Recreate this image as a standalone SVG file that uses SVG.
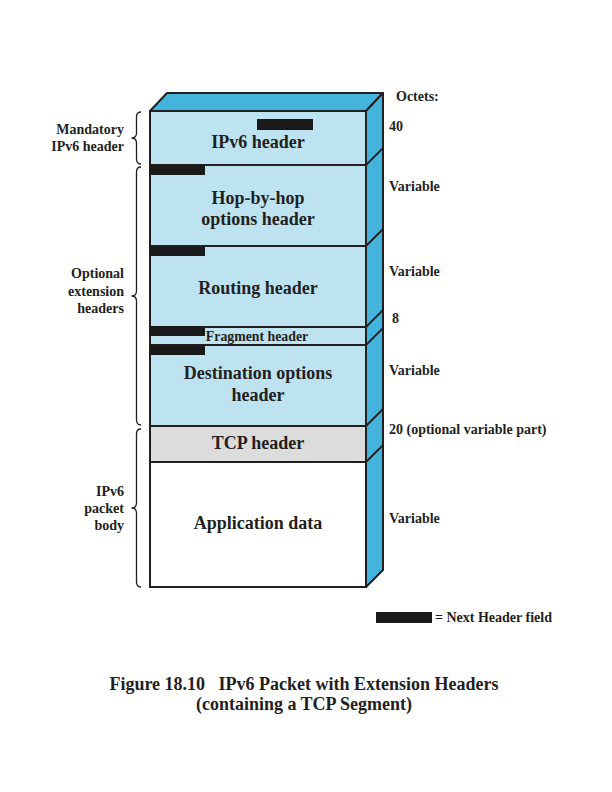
<svg xmlns="http://www.w3.org/2000/svg" width="612" height="792" viewBox="0 0 612 792">
<style>
.f{fill:#BDE3F0;stroke:#231F20;stroke-width:2}
.s{fill:#45B4DD;stroke:#231F20;stroke-width:2;stroke-linejoin:round}
.t{font-family:"Liberation Serif",serif;font-weight:bold;fill:#231F20}
.big{font-size:18px;text-anchor:middle}
.lab{font-size:14px}
.left{font-size:14px;text-anchor:end}
.nh{fill:#1a1a1a}
.br{fill:none;stroke:#231F20;stroke-width:1.3}
.dv{fill:none;stroke:#231F20;stroke-width:1.8}
</style>
<rect width="612" height="792" fill="#ffffff"/>
<g id="box3d">
<polygon class="s" points="150,111 167,93 383,93 366,111"/>
<polygon class="s" points="366,111 383,93 383,570 366,587"/>
</g>
<g id="ipv6-header">
<rect class="f" x="150" y="111" width="216" height="54"/>
<rect class="nh" x="257" y="119" width="56" height="11"/>
<text class="t big" x="258" y="148">IPv6 header</text>
</g>
<g id="hop-by-hop">
<rect class="f" x="150" y="165" width="216" height="81"/>
<rect class="nh" x="150" y="165" width="55" height="10"/>
<text class="t big" x="258" y="204">Hop-by-hop</text>
<text class="t big" x="258" y="225">options header</text>
</g>
<g id="routing">
<rect class="f" x="150" y="246" width="216" height="81"/>
<rect class="nh" x="150" y="246" width="55" height="10"/>
<text class="t big" x="258" y="294">Routing header</text>
</g>
<g id="fragment">
<rect class="f" x="150" y="327" width="216" height="18"/>
<rect class="nh" x="150" y="326" width="55" height="10"/>
<text class="t" x="257" y="341" font-size="13.8" text-anchor="middle">Fragment header</text>
</g>
<g id="destination">
<rect class="f" x="150" y="345" width="216" height="81"/>
<rect class="nh" x="150" y="345" width="55" height="10"/>
<text class="t big" x="258" y="379">Destination options</text>
<text class="t big" x="258" y="401">header</text>
</g>
<g id="tcp">
<rect x="150" y="426" width="216" height="36" fill="#DCDCDC" stroke="#231F20" stroke-width="2"/>
<text class="t big" x="258" y="449">TCP header</text>
</g>
<g id="appdata">
<rect x="150" y="462" width="216" height="125" fill="#ffffff" stroke="#231F20" stroke-width="2"/>
<text class="t big" x="258" y="529">Application data</text>
</g>
<g id="connectors">
<line class="dv" x1="366" y1="165" x2="383" y2="148"/>
<line class="dv" x1="366" y1="246" x2="383" y2="229"/>
<line class="dv" x1="366" y1="327" x2="383" y2="310"/>
<line class="dv" x1="366" y1="345" x2="383" y2="328"/>
<line class="dv" x1="366" y1="426" x2="383" y2="409"/>
<line class="dv" x1="366" y1="462" x2="383" y2="445"/>
<path class="br" d="M141,112 Q136.5,112 136.5,117 L136.5,133 Q136.5,138 131.5,138 Q136.5,138 136.5,143 L136.5,159 Q136.5,164 141,164"/>
<path class="br" d="M141,167 Q136.5,167 136.5,172 L136.5,291 Q136.5,296 131.5,296 Q136.5,296 136.5,301 L136.5,420 Q136.5,425 141,425"/>
<path class="br" d="M141,429 Q136.5,429 136.5,434 L136.5,503 Q136.5,508 131.5,508 Q136.5,508 136.5,513 L136.5,582 Q136.5,587 141,587"/>
</g>
<g id="labels">
<text class="t lab" x="396" y="101">Octets:</text>
<text class="t lab" x="389" y="131">40</text>
<text class="t lab" x="389" y="191">Variable</text>
<text class="t lab" x="389" y="276">Variable</text>
<text class="t lab" x="392" y="323">8</text>
<text class="t lab" x="389" y="375">Variable</text>
<text class="t lab" x="389" y="434">20 (optional variable part)</text>
<text class="t lab" x="389" y="523">Variable</text>
<text class="t left" x="124" y="134">Mandatory</text>
<text class="t left" x="124" y="151">IPv6 header</text>
<text class="t left" x="124" y="278">Optional</text>
<text class="t left" x="124" y="296">extension</text>
<text class="t left" x="124" y="313">headers</text>
<text class="t left" x="124" y="496">IPv6</text>
<text class="t left" x="124" y="513">packet</text>
<text class="t left" x="124" y="530">body</text>
</g>
<g id="legend">
<rect class="nh" x="376" y="612" width="56" height="11"/>
<text class="t lab" x="435" y="622">= Next Header field</text>
</g>
<g id="caption">
<text class="t" x="304" y="690" font-size="18" text-anchor="middle" xml:space="preserve">Figure 18.10   IPv6 Packet with Extension Headers</text>
<text class="t" x="304" y="710" font-size="18" text-anchor="middle">(containing a TCP Segment)</text>
</g>
</svg>
